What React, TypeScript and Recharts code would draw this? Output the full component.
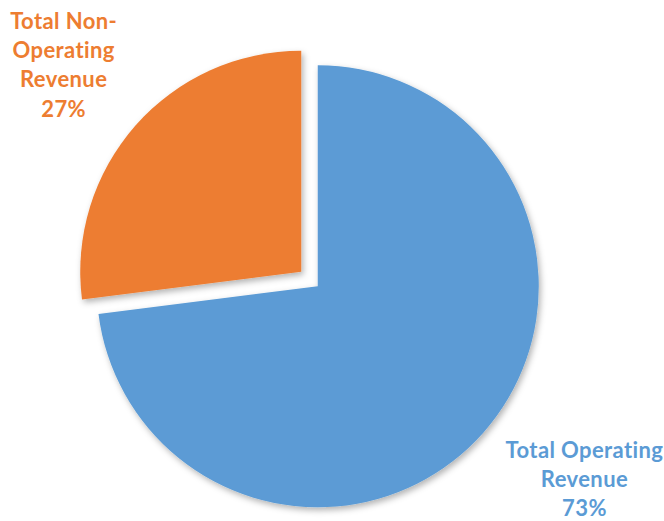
import React from "react";
import { PieChart, Pie, Cell, Sector } from "recharts";

const categories = ["Total Operating Revenue", "Total Non-Operating Revenue"];
const shares = [73, 27];
const labelLines = [
  ["Total Operating", "Revenue"],
  ["Total Non-", "Operating", "Revenue"],
];
const colors = ["#5B9BD5", "#ED7D31"];

const data = categories.map((name, i) => ({ name, value: shares[i] }));

const RADIAN = Math.PI / 180;
const EXPLODE = 11;
const FONT_SIZE = 22;
const LINE_HEIGHT = 29.3;

function renderExploded(props: any) {
  const { cx, cy, midAngle } = props;
  const dx = Math.cos(-midAngle * RADIAN) * EXPLODE;
  const dy = Math.sin(-midAngle * RADIAN) * EXPLODE;
  return (
    <g filter="url(#pieShadow)">
      <Sector {...props} cx={cx + dx} cy={cy + dy} stroke="none" />
    </g>
  );
}

function renderLabel(props: any) {
  const { cx, cy, midAngle, outerRadius, index, value } = props;
  const cos = Math.cos(-midAngle * RADIAN);
  const sin = Math.sin(-midAngle * RADIAN);
  const r = outerRadius + EXPLODE + 18;
  const ax = cx + r * cos;
  const ay = cy + r * sin;
  const lines = [...labelLines[index], `${value}%`];
  // rough block width, so the label sits beside the slice
  const width = Math.max(...lines.map((l) => l.length)) * FONT_SIZE * 0.53;
  const x = ax + (cos >= 0 ? width / 2 : -width / 2);
  const firstBaseline =
    sin >= 0 ? ay + 13.5 : ay + 3 - (lines.length - 1) * LINE_HEIGHT;
  return (
    <text
      x={x}
      y={firstBaseline}
      fill={colors[index]}
      textAnchor="middle"
      fontFamily="Lato, 'Noto Sans', sans-serif"
      fontWeight={700}
      fontSize={FONT_SIZE}
      letterSpacing={0.4}
    >
      {lines.map((line, i) => (
        <tspan key={i} x={x} y={firstBaseline + i * LINE_HEIGHT}>
          {line}
        </tspan>
      ))}
    </text>
  );
}

export default function App() {
  return (
    <div style={{ position: "absolute", left: 0, top: 0, background: "#fff" }}>
      <PieChart width={664} height={521} margin={{ top: 0, right: 0, bottom: 0, left: 0 }}>
        <defs>
          <filter id="pieShadow" x="-20%" y="-20%" width="140%" height="140%">
            <feDropShadow dx="2" dy="3" stdDeviation="3" floodColor="#000" floodOpacity="0.3" />
          </filter>
        </defs>
        <Pie
          data={data}
          dataKey="value"
          nameKey="name"
          cx={309.5}
          cy={279}
          outerRadius={221}
          startAngle={90}
          endAngle={-270}
          stroke="none"
          shape={renderExploded}
          label={renderLabel}
          labelLine={false}
          isAnimationActive={false}
        >
          {data.map((entry, i) => (
            <Cell key={entry.name} fill={colors[i]} />
          ))}
        </Pie>
      </PieChart>
    </div>
  );
}
